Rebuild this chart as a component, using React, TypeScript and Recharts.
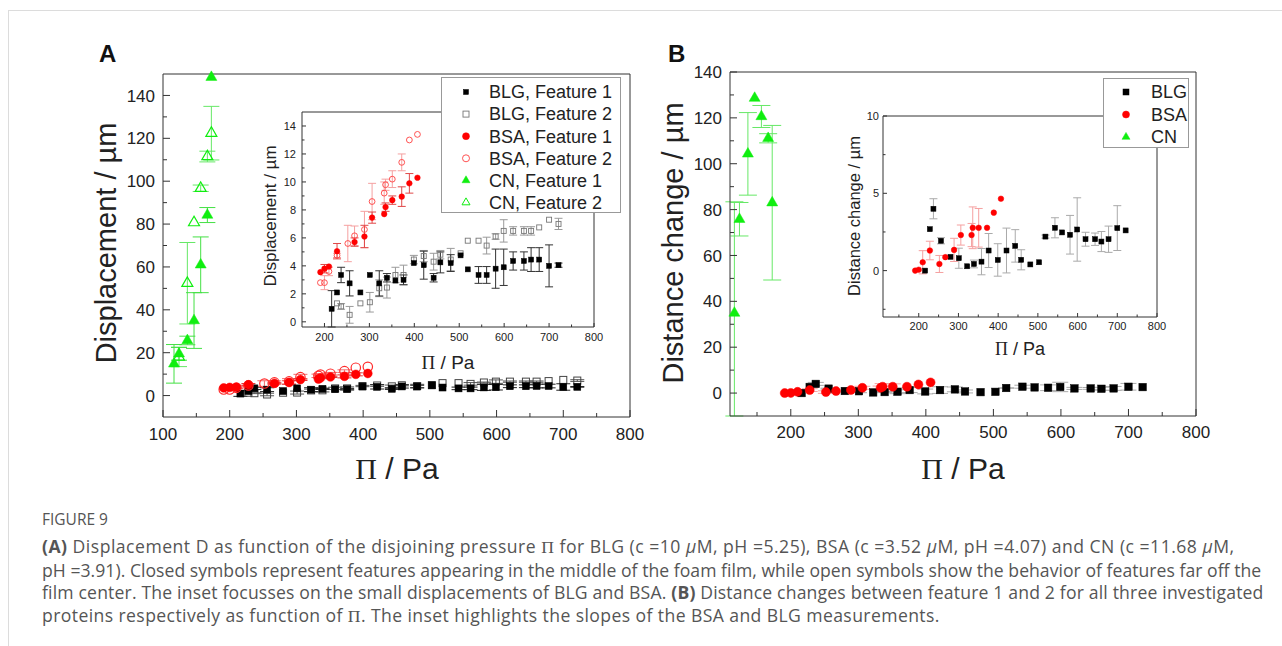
import React from 'react';
import { ScatterChart, Scatter, XAxis, YAxis, ErrorBar } from 'recharts';

const SANS = '"Liberation Sans", Arial, Helvetica, sans-serif';
const SERIF = '"Liberation Serif", "Times New Roman", serif';
const CAP = '"Open Sans", "Noto Sans", sans-serif';

// ---------- data: BLG ----------
const blgPi = [216, 228, 237, 256, 280, 301, 322, 339, 358, 376, 399, 421, 443, 458, 481, 503, 519, 543, 561, 581, 599, 620, 644, 660, 678, 700, 721];
const blgF1 = [0.93, 2.1, 3.35, 2.75, 2.1, 3.35, 2.75, 3.15, 2.95, 3.0, 4.2, 4.05, 3.15, 4.25, 4.2, 4.75, 3.75, 3.35, 3.35, 3.8, 3.9, 4.35, 4.35, 4.45, 4.45, 4.0, 4.05];
const blgF1Err = [1.3, 0, 0.55, 0.9, 0, 0, 0.9, 0.3, 0, 0.35, 0, 1.0, 0.3, 0.75, 0.6, 0, 0, 0.6, 0.6, 1.4, 1.3, 0.65, 0.65, 0.85, 0.85, 1.5, 0.15];
const blgF2 = [null, 1.32, 1.1, 0.5, 1.32, 1.4, 2.4, 2.45, 3.35, 3.35, 4.45, 4.7, 4.3, 4.8, 4.45, 4.9, 5.8, 5.8, 5.45, 6.1, 6.5, 6.5, 6.5, 6.5, 6.75, 7.3, 7.0];
const blgF2Err = [0, 0, 0.2, 0.6, 0, 0.7, 0.6, 0.75, 0.55, 0.7, 0.3, 0.4, 0.6, 0.3, 0.8, 0, 0, 0, 0.6, 0.2, 0.8, 0.3, 0.3, 0.3, 0, 0, 0.4];
const blgDist = [0.0, 2.68, 4.0, 1.93, 0.89, 0.8, 0.28, 0.43, 0.58, 1.3, 0.69, 1.3, 1.6, 0.7, 0.4, 0.54, 2.2, 2.77, 2.47, 2.32, 2.66, 2.03, 2.03, 1.88, 2.03, 2.75, 2.6];
const blgDistErr = [0, 0, 0.65, 0.2, 0, 0.65, 0, 0.25, 0.85, 1.1, 1.05, 1.45, 1.05, 0.65, 0, 0, 0.1, 0.65, 0, 1.25, 2.05, 0.45, 0.4, 0.65, 0.85, 1.45, 0];

// ---------- data: BSA ----------
const bsaPi = [191, 200, 210, 228, 252, 267, 289, 306, 333, 336, 351, 372, 389, 407];
const bsaF1 = [3.55, 3.8, 3.95, 5.05, null, 5.7, 6.1, 7.45, 7.7, 8.2, 8.7, 8.95, 9.9, 10.3];
const bsaF1Err = [0, 0.3, 0, 0.55, 0, 0.3, 0.8, 0.4, 0, 0.3, 0.3, 0.7, 0.7, 0];
const bsaF2 = [2.8, 2.8, 3.6, 4.75, 5.6, 6.15, 6.6, 8.6, 9.2, 9.8, 10.2, 11.4, 13.0, 13.4];
const bsaF2Err = [0, 0.5, 0.3, 0.15, 1.3, 0.7, 1.3, 1.3, 0.8, 0.4, 0.6, 0.6, 0, 0];
const bsaDist = [0.0, 0.06, 0.54, 1.3, 0.43, 0.87, 1.34, 2.3, 2.3, 2.77, 2.77, 2.77, 3.75, 4.65];
const bsaDistErr = [0, 0, 0.75, 0.6, 0.55, 0, 0.75, 0.65, 0.75, 1.35, 1.25, 0, 0, 0];

// ---------- data: CN ----------
const cnPi = [116.5, 124, 136.5, 146.5, 156.5, 166.5, 172.5];
const cnF1 = [14.8, 19.5, 25.7, 35, 61, 84.2, 148.5];
const cnF1Err = [9, 3, 2, 13, 13, 3.5, 0];
const cnF2 = [null, 18, 52.4, 80.7, 96.7, 111.5, 122.4];
const cnF2Err = [0, 4.5, 19, 0, 1.5, 2.5, 12.5];
const cnDist = [34.9, 75.8, 104.3, 128.6, 120.6, 111.1, 83];
const cnDistErr: (number | number[])[] = [[44.9, 48.5], 7.3, 18, 0, 4.8, 2, 33.7];

// ---------- ticks ----------
const mainAXMajor = [100, 200, 300, 400, 500, 600, 700, 800];
const mainAXMinor = [150, 250, 350, 450, 550, 650, 750];
const mainAYMajor = [0, 20, 40, 60, 80, 100, 120, 140];
const mainAYMinor = [10, 30, 50, 70, 90, 110, 130];
const mainBXMajor = [200, 300, 400, 500, 600, 700, 800];
const mainBXMinor = [150, 250, 350, 450, 550, 650, 750];
const mainBYMajor = [0, 20, 40, 60, 80, 100, 120, 140];
const mainBYMinor = [10, 30, 50, 70, 90, 110, 130];
const insAXMajor = [200, 300, 400, 500, 600, 700, 800];
const insAXMinor = [250, 350, 450, 550, 650, 750];
const insAYMajor = [0, 2, 4, 6, 8, 10, 12, 14];
const insAYMinor = [1, 3, 5, 7, 9, 11, 13];
const insBXMajor = [200, 300, 400, 500, 600, 700, 800];
const insBXMinor = [150, 250, 350, 450, 550, 650, 750];
const insBYMajor = [0, 5, 10];
const insBYMinor = [-2.5, 2.5, 7.5];

const legendALabels = ['BLG, Feature 1', 'BLG, Feature 2', 'BSA, Feature 1', 'BSA, Feature 2', 'CN, Feature 1', 'CN, Feature 2'];
const legendBLabels = ['BLG', 'BSA', 'CN'];

type Pt = { x: number; y: number; e?: number | number[] };
const pts = (xs: number[], ys: (number | null)[], es: (number | number[])[]): Pt[] =>
  xs
    .map((x, i) => ({ x, y: ys[i] as number, e: es[i] ? es[i] : undefined }))
    .filter((p) => p.y !== null && p.y !== undefined);

// ---------- markers ----------
type MK = { kind: 'sq' | 'ci' | 'tr'; size: number; fill: string; stroke: string; sw: number };
function drawMarker(m: MK, cx: number, cy: number, key?: string) {
  if (m.kind === 'sq') {
    return <rect key={key} x={cx - m.size / 2} y={cy - m.size / 2} width={m.size} height={m.size} fill={m.fill} stroke={m.stroke} strokeWidth={m.sw} />;
  }
  if (m.kind === 'ci') {
    return <circle key={key} cx={cx} cy={cy} r={m.size / 2} fill={m.fill} stroke={m.stroke} strokeWidth={m.sw} />;
  }
  const s = m.size;
  const h = s * 0.866;
  return (
    <polygon
      key={key}
      points={`${cx},${cy - (h * 2) / 3} ${cx - s / 2},${cy + h / 3} ${cx + s / 2},${cy + h / 3}`}
      fill={m.fill}
      stroke={m.stroke}
      strokeWidth={m.sw}
    />
  );
}
const shapeOf = (m: MK) => (p: any) => drawMarker(m, p.cx, p.cy);

const GREEN = '#10ee10';
const RED = '#ff0000';

// ---------- tick renderers ----------
type TO = { major: number[]; len: number; minorLen: number; fs: number; off: number; side: 'bottom' | 'top' | 'left' | 'right' };
const makeTick = (o: TO) => (props: any) => {
  const { x, y, payload } = props;
  const v = payload.value;
  const isMajor = o.major.indexOf(v) >= 0;
  const L = isMajor ? o.len : o.minorLen;
  let line: any = null;
  if (o.side === 'bottom') line = <line x1={x} x2={x} y1={y} y2={y - L} stroke="#333" strokeWidth={1} />;
  if (o.side === 'top') line = <line x1={x} x2={x} y1={y} y2={y + L} stroke="#333" strokeWidth={1} />;
  if (o.side === 'left') line = <line x1={x} x2={x + L} y1={y} y2={y} stroke="#333" strokeWidth={1} />;
  if (o.side === 'right') line = <line x1={x} x2={x - L} y1={y} y2={y} stroke="#333" strokeWidth={1} />;
  let label: any = null;
  if (isMajor && o.side === 'bottom') {
    label = (
      <text x={x} y={y + o.off} textAnchor="middle" fontSize={o.fs} fontFamily={SANS} fill="#222">
        {v}
      </text>
    );
  }
  if (isMajor && o.side === 'left') {
    label = (
      <text x={x - o.off} y={y + o.fs * 0.36} textAnchor="end" fontSize={o.fs} fontFamily={SANS} fill="#222">
        {v}
      </text>
    );
  }
  return (
    <g>
      {line}
      {label}
    </g>
  );
};

type AxCfg = {
  xd: [number, number];
  yd: [number, number];
  xMajor: number[];
  xMinor: number[];
  yMajor: number[];
  yMinor: number[];
  xh: number;
  yw: number;
  len: number;
  minorLen: number;
  fs: number;
  bOff: number;
  lOff: number;
};
const sortTicks = (a: number[], b: number[]) => [...a, ...b].sort((p, q) => p - q);
const axes = (c: AxCfg) => {
  const xt = sortTicks(c.xMajor, c.xMinor);
  const yt = sortTicks(c.yMajor, c.yMinor);
  const common = { tickSize: 0, tickMargin: 0, tickLine: false, interval: 0 as const, axisLine: { stroke: '#333', strokeWidth: 1 } };
  return [
    <XAxis key="xb" xAxisId={0} type="number" dataKey="x" domain={c.xd} ticks={xt} height={c.xh} {...common}
      tick={makeTick({ major: c.xMajor, len: c.len, minorLen: c.minorLen, fs: c.fs, off: c.bOff, side: 'bottom' })} />,
    <XAxis key="xt" xAxisId="t" orientation="top" type="number" dataKey="x" domain={c.xd} ticks={xt} height={1} {...common}
      tick={makeTick({ major: c.xMajor, len: c.len, minorLen: c.minorLen, fs: c.fs, off: 0, side: 'top' })} />,
    <YAxis key="yl" yAxisId={0} type="number" dataKey="y" domain={c.yd} ticks={yt} width={c.yw} {...common}
      tick={makeTick({ major: c.yMajor, len: c.len, minorLen: c.minorLen, fs: c.fs, off: c.lOff, side: 'left' })} />,
    <YAxis key="yr" yAxisId="r" orientation="right" type="number" dataKey="y" domain={c.yd} ticks={yt} width={1} {...common}
      tick={makeTick({ major: c.yMajor, len: c.len, minorLen: c.minorLen, fs: c.fs, off: 0, side: 'right' })} />,
  ];
};

// ---------- marker specs ----------
const mA = {
  blg1: { kind: 'sq', size: 7, fill: '#000', stroke: '#000', sw: 0.5 } as MK,
  blg2: { kind: 'sq', size: 7, fill: 'none', stroke: '#444', sw: 1 } as MK,
  bsa1: { kind: 'ci', size: 8.8, fill: RED, stroke: RED, sw: 0.5 } as MK,
  bsa2: { kind: 'ci', size: 9.4, fill: 'none', stroke: '#ff2a2a', sw: 1.2 } as MK,
  cn1: { kind: 'tr', size: 11, fill: GREEN, stroke: GREEN, sw: 0.5 } as MK,
  cn2: { kind: 'tr', size: 11, fill: 'none', stroke: GREEN, sw: 1.2 } as MK,
};
const mI = {
  blg1: { kind: 'sq', size: 5, fill: '#000', stroke: '#000', sw: 0.5 } as MK,
  blg2: { kind: 'sq', size: 5, fill: 'none', stroke: '#777', sw: 0.9 } as MK,
  bsa1: { kind: 'ci', size: 5.6, fill: RED, stroke: RED, sw: 0.5 } as MK,
  bsa2: { kind: 'ci', size: 5.8, fill: 'none', stroke: '#ff4040', sw: 0.9 } as MK,
};
const mB = {
  blg: { kind: 'sq', size: 7.5, fill: '#000', stroke: '#000', sw: 0.5 } as MK,
  bsa: { kind: 'ci', size: 9, fill: RED, stroke: RED, sw: 0.5 } as MK,
  cn: { kind: 'tr', size: 11, fill: GREEN, stroke: GREEN, sw: 0.5 } as MK,
};
const mIB = {
  blg: { kind: 'sq', size: 5, fill: '#000', stroke: '#000', sw: 0.5 } as MK,
  bsa: { kind: 'ci', size: 5.6, fill: RED, stroke: RED, sw: 0.5 } as MK,
};

const abs = (left: number, top: number, z = 1): React.CSSProperties => ({ position: 'absolute', left, top, zIndex: z });

function LegendBox({ left, top, width, height, rows, labels, mx, tx, y0, dy }: any) {
  return (
    <div style={{ ...abs(left, top, 5), width, height, background: '#fff', border: '1px solid #999', boxSizing: 'border-box' }}>
      <svg width={width - 2} height={height - 2} style={{ display: 'block' }}>
        {rows.map((m: MK, i: number) => (
          <g key={i}>
            {drawMarker(m, mx, y0 + i * dy)}
            <text x={tx} y={y0 + i * dy + 6.3} fontSize={18} fontFamily={SANS} fill="#222">
              {labels[i]}
            </text>
          </g>
        ))}
      </svg>
    </div>
  );
}

const PiTitle = ({ x, y, fs }: { x: number; y: number; fs: number }) => (
  <text x={x} y={y} textAnchor="middle" fontSize={fs} fontFamily={SANS} fill="#222">
    <tspan fontFamily={SERIF}>Π</tspan>
    <tspan> / Pa</tspan>
  </text>
);

export default function App() {
  const cfgA: AxCfg = { xd: [100, 800], yd: [-10, 150], xMajor: mainAXMajor, xMinor: mainAXMinor, yMajor: mainAYMajor, yMinor: mainAYMinor, xh: 33, yw: 73, len: 7, minorLen: 4, fs: 17, bOff: 23, lOff: 8 };
  const cfgB: AxCfg = { xd: [110, 800], yd: [-10, 140], xMajor: mainBXMajor, xMinor: mainBXMinor, yMajor: mainBYMajor, yMinor: mainBYMinor, xh: 34, yw: 80, len: 7, minorLen: 4, fs: 17, bOff: 22, lOff: 8 };
  const cfgIA: AxCfg = { xd: [150, 800], yd: [0, 15], xMajor: insAXMajor, xMinor: insAXMinor, yMajor: insAYMajor, yMinor: insAYMinor, xh: 17, yw: 34, len: 4, minorLen: 2.5, fs: 11, bOff: 14, lOff: 6 };
  const cfgIB: AxCfg = { xd: [110, 800], yd: [-3, 10], xMajor: insBXMajor, xMinor: insBXMinor, yMajor: insBYMajor, yMinor: insBYMinor, xh: 17, yw: 25, len: 4, minorLen: 2.5, fs: 11, bOff: 13, lOff: 4 };

  const blg1 = pts(blgPi, blgF1, blgF1Err);
  const blg2 = pts(blgPi, blgF2, blgF2Err);
  const bsa1 = pts(bsaPi, bsaF1, bsaF1Err);
  const bsa2 = pts(bsaPi, bsaF2, bsaF2Err);
  const cn1 = pts(cnPi, cnF1, cnF1Err);
  const cn2 = pts(cnPi, cnF2, cnF2Err);
  const blgD = pts(blgPi, blgDist, blgDistErr);
  const bsaD = pts(bsaPi, bsaDist, bsaDistErr);
  const cnD = pts(cnPi, cnDist, cnDistErr);

  const eb = (stroke: string, w: number, key: string) => <ErrorBar key={key} dataKey="e" direction="y" width={w} stroke={stroke} strokeWidth={1} />;

  const capLine = (ls: number): React.CSSProperties => ({ letterSpacing: `${ls}px` });

  return (
    <div style={{ position: 'absolute', left: 0, top: 0, width: 1282, height: 646, background: '#fff', overflow: 'hidden', fontFamily: SANS }}>
      <div style={{ position: 'absolute', left: 8, top: 10, width: 1300, height: 660, borderTop: '1px solid #dcdcdc', borderLeft: '1px solid #dcdcdc' }} />

      {/* Panel A main */}
      <div style={abs(90, 60, 1)}>
        <ScatterChart width={560} height={390} margin={{ top: 13, right: 19, bottom: 0, left: 0 }}>
          {axes(cfgA)}
          <Scatter name="BLG, Feature 2" data={blg2} shape={shapeOf(mA.blg2)} isAnimationActive={false}>{eb('#555', 7, 'e')}</Scatter>
          <Scatter name="BLG, Feature 1" data={blg1} shape={shapeOf(mA.blg1)} isAnimationActive={false}>{eb('#222', 7, 'e')}</Scatter>
          <Scatter name="BSA, Feature 2" data={bsa2} shape={shapeOf(mA.bsa2)} isAnimationActive={false}>{eb('#f36a6a', 7, 'e')}</Scatter>
          <Scatter name="BSA, Feature 1" data={bsa1} shape={shapeOf(mA.bsa1)} isAnimationActive={false}>{eb('#e03030', 7, 'e')}</Scatter>
          <Scatter name="CN, Feature 2" data={cn2} shape={shapeOf(mA.cn2)} isAnimationActive={false}>{eb('#66e866', 8, 'e')}</Scatter>
          <Scatter name="CN, Feature 1" data={cn1} shape={shapeOf(mA.cn1)} isAnimationActive={false}>{eb('#44e044', 8, 'e')}</Scatter>
        </ScatterChart>
      </div>

      {/* Panel A inset */}
      <div style={abs(268, 104, 2)}>
        <ScatterChart width={340} height={240} margin={{ top: 7, right: 13, bottom: 0, left: 0 }}>
          {axes(cfgIA)}
          <Scatter name="BLG, Feature 2" data={blg2} shape={shapeOf(mI.blg2)} isAnimationActive={false}>{eb('#9a9a9a', 4, 'e')}</Scatter>
          <Scatter name="BLG, Feature 1" data={blg1} shape={shapeOf(mI.blg1)} isAnimationActive={false}>{eb('#333', 4, 'e')}</Scatter>
          <Scatter name="BSA, Feature 2" data={bsa2} shape={shapeOf(mI.bsa2)} isAnimationActive={false}>{eb('#f5a0a0', 4, 'e')}</Scatter>
          <Scatter name="BSA, Feature 1" data={bsa1} shape={shapeOf(mI.bsa1)} isAnimationActive={false}>{eb('#e04848', 4, 'e')}</Scatter>
        </ScatterChart>
      </div>

      <LegendBox left={441} top={77} width={180} height={136} rows={[mI.blg1, { ...mI.blg2, size: 6 }, { ...mI.bsa1, size: 7 }, { ...mI.bsa2, size: 7 }, { ...mA.cn1, size: 8 }, { ...mA.cn2, size: 8, sw: 1 }]}
        labels={legendALabels} mx={24} tx={47} y0={14} dy={22.1} />

      {/* Panel B main */}
      <div style={abs(650, 50, 1)}>
        <ScatterChart width={580} height={400} margin={{ top: 21, right: 33, bottom: 0, left: 0 }}>
          {axes(cfgB)}
          <Scatter name="BLG" data={blgD} shape={shapeOf(mB.blg)} isAnimationActive={false}>{eb('#aaa', 8, 'e')}</Scatter>
          <Scatter name="BSA" data={bsaD} shape={shapeOf(mB.bsa)} isAnimationActive={false}>{eb('#f5a0a0', 8, 'e')}</Scatter>
          <Scatter name="CN" data={cnD} shape={shapeOf(mB.cn)} isAnimationActive={false}>{eb('#66e866', 9, 'e')}</Scatter>
        </ScatterChart>
      </div>

      {/* Panel B inset */}
      <div style={abs(858, 108, 2)}>
        <ScatterChart width={312} height={226} margin={{ top: 7, right: 12, bottom: 0, left: 0 }}>
          {axes(cfgIB)}
          <Scatter name="BLG" data={blgD} shape={shapeOf(mIB.blg)} isAnimationActive={false}>{eb('#aaa', 4, 'e')}</Scatter>
          <Scatter name="BSA" data={bsaD} shape={shapeOf(mIB.bsa)} isAnimationActive={false}>{eb('#f5a0a0', 4, 'e')}</Scatter>
        </ScatterChart>
      </div>

      <LegendBox left={1103} top={78} width={86} height={70} rows={[{ ...mB.blg, size: 6 }, { ...mB.bsa, size: 7 }, { ...mB.cn, size: 8 }]}
        labels={legendBLabels} mx={22} tx={47} y0={13} dy={22.5} />

      {/* titles */}
      <svg width={1282} height={500} style={{ position: 'absolute', left: 0, top: 0, zIndex: 6, pointerEvents: 'none' }}>
        <text x={99} y={62} fontSize={24} fontWeight="bold" fontFamily={SANS} fill="#111">A</text>
        <text x={668} y={62} fontSize={24} fontWeight="bold" fontFamily={SANS} fill="#111">B</text>
        <text transform="translate(116,243) rotate(-90)" textAnchor="middle" fontSize={29} fontFamily={SANS} fill="#222">Displacement / µm</text>
        <text transform="translate(683,243) rotate(-90)" textAnchor="middle" fontSize={29} fontFamily={SANS} fill="#222">Distance change / µm</text>
        <text transform="translate(276,216) rotate(-90)" textAnchor="middle" fontSize={17} fontFamily={SANS} fill="#222">Displacement / µm</text>
        <text transform="translate(860,216) rotate(-90)" textAnchor="middle" fontSize={16.5} fontFamily={SANS} fill="#222">Distance change / µm</text>
        <PiTitle x={397} y={479} fs={30} />
        <PiTitle x={963} y={479} fs={30} />
        <PiTitle x={448} y={369} fs={19} />
        <PiTitle x={1020} y={355} fs={18} />
      </svg>

      {/* caption */}
      <div style={{ position: 'absolute', left: 42, top: 508, fontFamily: CAP, fontSize: 15.5, color: '#555', lineHeight: '22px', whiteSpace: 'nowrap' }}>FIGURE 9</div>
      <div style={{ position: 'absolute', left: 42, top: 535, fontFamily: CAP, fontSize: 17.6, color: '#555', lineHeight: '22.7px', whiteSpace: 'nowrap' }}>
        <div style={capLine(0.49)}>
          <b>(A)</b> Displacement D as function of the disjoining pressure <span style={{ fontFamily: SERIF }}>Π</span> for BLG (c =10 <i>µ</i>M, pH =5.25), BSA (c =3.52 <i>µ</i>M, pH =4.07) and CN (c =11.68 <i>µ</i>M,
        </div>
        <div style={capLine(0.03)}>pH =3.91). Closed symbols represent features appearing in the middle of the foam film, while open symbols show the behavior of features far off the</div>
        <div style={capLine(0.17)}>
          film center. The inset focusses on the small displacements of BLG and BSA. <b>(B)</b> Distance changes between feature 1 and 2 for all three investigated
        </div>
        <div style={capLine(0.4)}>
          proteins respectively as function of <span style={{ fontFamily: SERIF }}>Π</span>. The inset highlights the slopes of the BSA and BLG measurements.
        </div>
      </div>
    </div>
  );
}
